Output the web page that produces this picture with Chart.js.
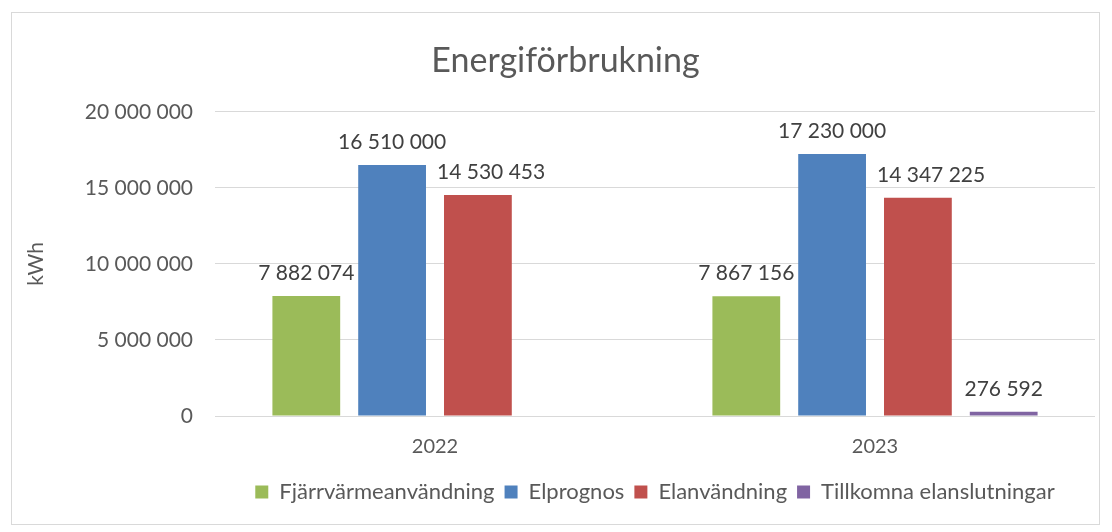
<!DOCTYPE html>
<html>
<head>
<meta charset="utf-8">
<script src="https://cdn.jsdelivr.net/npm/chart.js@4/dist/chart.umd.min.js"></script>
<style>
  html, body { margin: 0; padding: 0; background: #fff; }
  #wrap { width: 1112px; height: 532px; }
</style>
</head>
<body>
<div id="wrap"><canvas id="myChart" width="1112" height="532"></canvas></div>
<script>
const years = ['2022', '2023'];
const fjarrvarme = [7882074, 7867156];
const elprognos = [16510000, 17230000];
const elanvandning = [14530453, 14347225];
const tillkomna = [null, 276592];
const yTicks = [0, 5000000, 10000000, 15000000, 20000000];

const textColor = '#595959';
const fontFamily = 'Lato, "Open Sans", sans-serif';

// 7882074 -> "7 882 074"
function fmt(v) {
  return String(Math.round(v)).replace(/\B(?=(\d{3})+(?!\d))/g, ' ');
}

// frame around the whole chart, title nudged a bit right like in Excel
const framePlugin = {
  id: 'frame',
  afterLayout(chart) {
    chart.titleBlock.left += 12;
    chart.titleBlock.right += 12;
  },
  beforeDraw(chart) {
    const ctx = chart.ctx;
    ctx.save();
    ctx.fillStyle = '#fff';
    ctx.fillRect(0, 0, chart.width, chart.height);
    ctx.strokeStyle = '#D9D9D9';
    ctx.lineWidth = 1;
    ctx.strokeRect(11.5, 12.5, 1088, 512);
    ctx.restore();
  }
};

// value labels above bars; pushed right if a taller bar on the left is in the way
const valueLabels = {
  id: 'valueLabels',
  afterDatasetsDraw(chart) {
    const ctx = chart.ctx;
    ctx.save();
    ctx.font = '21px ' + fontFamily;
    ctx.fillStyle = '#404040';
    ctx.textAlign = 'center';
    ctx.textBaseline = 'middle';
    chart.data.datasets.forEach((ds, i) => {
      const meta = chart.getDatasetMeta(i);
      meta.data.forEach((bar, j) => {
        const v = ds.data[j];
        if (v == null) return;
        const text = fmt(v);
        const w = ctx.measureText(text).width;
        const y = bar.y - 23;
        let x = bar.x;
        if (i > 0) {
          const prev = chart.getDatasetMeta(i - 1).data[j];
          const prevRight = prev.x + prev.width / 2;
          if (prev.y < y + 12 && x - w / 2 < prevRight + 11) {
            x = prevRight + 11 + w / 2;
          }
        }
        ctx.fillText(text, x, y);
      });
    });
    ctx.restore();
  }
};

const ctx = document.getElementById('myChart').getContext('2d');

new Chart(ctx, {
  type: 'bar',
  data: {
    labels: years,
    datasets: [
      { label: 'Fjärrvärmeanvändning', data: fjarrvarme, backgroundColor: '#9BBB59' },
      { label: 'Elprognos', data: elprognos, backgroundColor: '#4F81BD' },
      { label: 'Elanvändning', data: elanvandning, backgroundColor: '#C0504D' },
      { label: 'Tillkomna elanslutningar', data: tillkomna, backgroundColor: '#8064A2' },
    ],
  },
  options: {
    responsive: false,
    animation: false,
    datasets: {
      bar: { categoryPercentage: 0.78, barPercentage: 0.79 },
    },
    layout: {
      padding: { left: 12, right: 17, top: 12, bottom: 19 },
    },
    plugins: {
      title: {
        display: true,
        text: 'Energiförbrukning',
        color: textColor,
        font: { family: fontFamily, size: 34, weight: 'normal' },
        padding: { top: 29, bottom: 30 },
      },
      legend: {
        position: 'bottom',
        fullSize: false,
        labels: {
          color: textColor,
          font: { family: fontFamily, size: 22 },
          boxWidth: 13,
          boxHeight: 13,
          padding: 10,
        },
      },
      tooltip: { enabled: false },
    },
    scales: {
      x: {
        grid: { display: false },
        border: { display: false },
        ticks: { color: textColor, font: { family: fontFamily, size: 20 }, padding: 11 },
        afterFit(scale) { scale.height = 55; },
      },
      y: {
        min: 0,
        max: 20000000,
        afterBuildTicks(scale) { scale.ticks = yTicks.map(v => ({ value: v })); },
        grid: { color: '#D9D9D9', drawTicks: false },
        border: { display: false },
        ticks: {
          color: textColor,
          font: { family: fontFamily, size: 21 },
          padding: 22,
          callback: v => fmt(v),
        },
        title: {
          display: true,
          text: 'kWh',
          color: textColor,
          font: { family: fontFamily, size: 21 },
          padding: { top: 12, bottom: 0 },
        },
        afterFit(scale) { scale.width = 203; },
      },
    },
  },
  plugins: [framePlugin, valueLabels],
});
</script>
</body>
</html>
